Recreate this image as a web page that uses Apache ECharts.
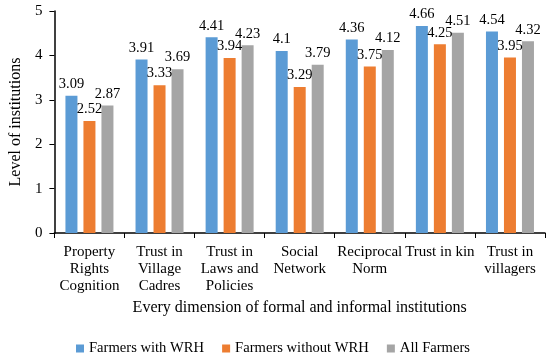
<!DOCTYPE html>
<html><head><meta charset="utf-8">
<script src="https://cdn.jsdelivr.net/npm/echarts@6/dist/echarts.min.js"></script>
<style>html,body{margin:0;padding:0;background:#fff}#c{width:550px;height:358px}</style>
</head><body><div id="c"></div>
<script>
var categories = ['Property\nRights\nCognition','Trust in\nVillage\nCadres','Trust in\nLaws and\nPolicies','Social\nNetwork','Reciprocal\nNorm','Trust in kin','Trust in\nvillagers'];
var withWRH = [3.09,3.91,4.41,4.1,4.36,4.66,4.54];
var withoutWRH = [2.52,3.33,3.94,3.29,3.75,4.25,3.95];
var allFarmers = [2.87,3.69,4.23,3.79,4.12,4.51,4.32];
var seriesNames = ['Farmers with WRH','Farmers without WRH','All Farmers'];
var colors = ['#5B9BD5','#ED7D31','#A5A5A5'];
var font = '"Liberation Serif","Times New Roman",serif';
function mk(name, data, color){
  return {name:name,type:'bar',data:data,barWidth:12,barGap:'50%',
    itemStyle:{color:color},
    label:{show:true,position:'top',distance:4,color:'#000',fontFamily:font,fontSize:14.5}};
}
var chart = echarts.init(document.getElementById('c'));
chart.setOption({
  animation:false,
  textStyle:{fontFamily:font},
  grid:{left:43,right:5,top:11,bottom:125},
  legend:{top:341,left:76,itemWidth:8,itemHeight:8,itemGap:18,padding:0,
    icon:'rect',textStyle:{fontFamily:font,fontSize:14.6,color:'#000'},data:seriesNames},
  xAxis:{type:'category',data:categories,
    name:'Every dimension of formal and informal institutions',nameLocation:'middle',nameGap:66,
    nameTextStyle:{fontFamily:font,fontSize:16,color:'#000'},
    axisLine:{lineStyle:{color:'#000',width:1.5}},
    axisTick:{show:true,length:5,lineStyle:{color:'#000'}},
    axisLabel:{color:'#000',fontFamily:font,fontSize:15,lineHeight:17,margin:11,interval:0}},
  yAxis:{type:'value',min:0,max:5,interval:1,
    name:'Level of institutions',nameLocation:'middle',nameGap:28,
    nameTextStyle:{fontFamily:font,fontSize:16,color:'#000'},
    axisLine:{show:true,lineStyle:{color:'#000',width:1.5}},
    axisTick:{show:true,length:5,lineStyle:{color:'#000'}},
    splitLine:{show:false},
    axisLabel:{color:'#000',fontFamily:font,fontSize:15,margin:12}},
  series:[mk(seriesNames[0],withWRH,colors[0]),mk(seriesNames[1],withoutWRH,colors[1]),mk(seriesNames[2],allFarmers,colors[2])]
});
</script></body></html>
